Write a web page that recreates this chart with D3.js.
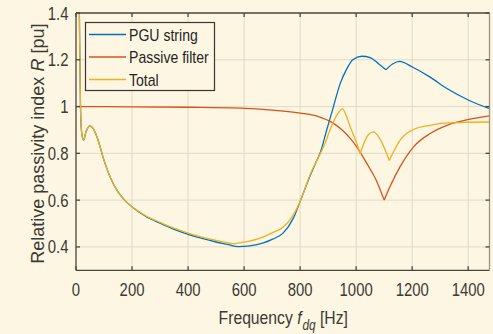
<!DOCTYPE html>
<html>
<head>
<meta charset="utf-8">
<script src="https://cdn.jsdelivr.net/npm/d3@7"></script>
<style>
  html, body { margin: 0; padding: 0; background: #fdf6e3; }
  svg { display: block; }
  .tick-label { font-family: "Liberation Sans", Arial, sans-serif; font-size: 17.5px; fill: #3b3a33; }
  .legend-label { font-family: "Liberation Sans", Arial, sans-serif; font-size: 16px; fill: #26251f; }
  .axis-label { font-family: "Liberation Sans", Arial, sans-serif; font-size: 18.5px; fill: #3b3a33; }
  .axis-label-y { font-family: "Liberation Sans", Arial, sans-serif; font-size: 18px; fill: #3b3a33; }
</style>
</head>
<body>
<svg id="chart" width="493" height="334"></svg>
<script>
// Relative passivity index versus dq-frame frequency

const xTicks = [0, 200, 400, 600, 800, 1000, 1200, 1400];
const yTicks = [0.4, 0.6, 0.8, 1, 1.2, 1.4];
const yTickLabels = ["0.4", "0.6", "0.8", "1", "1.2", "1.4"];

const seriesNames = ["PGU string", "Passive filter", "Total"];
const seriesColors = ["#0072bd", "#d95319", "#edb120"];

// PGU string
const pguFreq = [8, 12, 16, 21, 27, 35, 50, 62, 75, 100, 125, 150, 175, 205, 250, 300, 350, 400, 450, 500, 540, 580, 620, 669, 700, 740, 776, 802, 836, 860, 871, 895, 919, 943, 967, 988, 1020, 1050, 1080, 1106, 1130, 1155, 1202, 1264, 1324, 1402, 1476];
const pguValue = [1.9, 1.4, 1.0, 0.88, 0.857, 0.89, 0.917, 0.905, 0.87, 0.77, 0.69, 0.635, 0.598, 0.566, 0.53, 0.501, 0.475, 0.454, 0.436, 0.421, 0.411, 0.401, 0.404, 0.417, 0.432, 0.46, 0.523, 0.6, 0.705, 0.77, 0.8, 0.9, 1.0, 1.098, 1.162, 1.2, 1.215, 1.209, 1.183, 1.157, 1.182, 1.193, 1.168, 1.126, 1.077, 1.027, 0.991];
const pguKinks = [1106];

// Passive filter
const filterFreq = [0, 200, 400, 586, 700, 800, 860, 919, 950, 979, 1002, 1038, 1074, 1100, 1121, 1157, 1205, 1264, 1324, 1402, 1476];
const filterValue = [1.0, 0.999, 0.997, 0.993, 0.985, 0.972, 0.959, 0.928, 0.9, 0.864, 0.828, 0.757, 0.679, 0.6, 0.658, 0.743, 0.828, 0.885, 0.92, 0.945, 0.96];
const filterKinks = [1100];

// Total
const totalFreq = [8, 12, 16, 21, 27, 35, 50, 62, 75, 100, 125, 150, 175, 205, 250, 300, 350, 400, 450, 500, 540, 562, 600, 669, 700, 740, 776, 802, 836, 860, 889, 910, 931, 951, 965, 979, 1000, 1014, 1030, 1045, 1062, 1080, 1100, 1118, 1135, 1157, 1180, 1205, 1264, 1324, 1402, 1476];
const totalValue = [1.9, 1.4, 1.0, 0.88, 0.857, 0.89, 0.917, 0.905, 0.87, 0.77, 0.69, 0.635, 0.598, 0.567, 0.532, 0.505, 0.48, 0.459, 0.442, 0.428, 0.418, 0.413, 0.42, 0.443, 0.46, 0.485, 0.537, 0.6, 0.71, 0.77, 0.843, 0.91, 0.963, 0.99, 0.96, 0.913, 0.85, 0.797, 0.85, 0.882, 0.892, 0.872, 0.825, 0.769, 0.81, 0.857, 0.885, 0.902, 0.92, 0.93, 0.933, 0.934];
const totalKinks = [562, 1014, 1118];

const svg = d3.select("#chart");
const plot = { left: 76, right: 489.5, top: 13, bottom: 270.3 };
// horizontal text squeeze used throughout the figure
const squeeze = 0.85;

const x = d3.scaleLinear().domain([0, 1476]).range([plot.left, plot.right]);
const y = d3.scaleLinear().domain([0.3, 1.4]).range([plot.bottom, plot.top]);

const axisColor = "#4a463b";
const gridColor = "#e2dac6";

svg.append("rect").attr("width", 493).attr("height", 334).attr("fill", "#fdf6e3");

// grid
const grid = svg.append("g");
grid.selectAll("line.gx").data(xTicks.filter(d => d > 0)).join("line")
  .attr("x1", d => x(d)).attr("x2", d => x(d))
  .attr("y1", plot.top).attr("y2", plot.bottom)
  .attr("stroke", gridColor).attr("stroke-width", 1);
grid.selectAll("line.gy").data(yTicks.filter(d => d < 1.4)).join("line")
  .attr("x1", plot.left).attr("x2", plot.right)
  .attr("y1", d => y(d)).attr("y2", d => y(d))
  .attr("stroke", gridColor).attr("stroke-width", 1);

// curves
svg.append("defs").append("clipPath").attr("id", "plotClip")
  .append("rect").attr("x", plot.left).attr("y", plot.top)
  .attr("width", plot.right - plot.left).attr("height", plot.bottom - plot.top);

const lineGen = d3.line().x(d => x(d[0])).y(d => y(d[1])).curve(d3.curveMonotoneX);

function curvePath(freqs, values, kinks) {
  const pts = freqs.map((f, i) => [f, values[i]]);
  const segments = [];
  let current = [];
  pts.forEach(p => {
    current.push(p);
    if (kinks.includes(p[0])) {
      segments.push(current);
      current = [p];
    }
  });
  if (current.length > 1) segments.push(current);
  return segments.map(s => lineGen(s)).join("");
}

const curves = svg.append("g").attr("clip-path", "url(#plotClip)");
const seriesData = [
  [pguFreq, pguValue, pguKinks],
  [filterFreq, filterValue, filterKinks],
  [totalFreq, totalValue, totalKinks]
];
seriesData.forEach((s, i) => {
  curves.append("path")
    .attr("d", curvePath(s[0], s[1], s[2]))
    .attr("fill", "none")
    .attr("stroke", seriesColors[i])
    .attr("stroke-width", 1.3)
    .attr("stroke-linejoin", "round");
});

// axes box
const axes = svg.append("g");
axes.append("line").attr("x1", plot.left).attr("x2", plot.right).attr("y1", plot.bottom).attr("y2", plot.bottom)
  .attr("stroke", axisColor).attr("stroke-width", 1.3);
axes.append("line").attr("x1", plot.left).attr("x2", plot.right).attr("y1", plot.top).attr("y2", plot.top)
  .attr("stroke", axisColor).attr("stroke-width", 1.3);
axes.append("line").attr("x1", plot.left).attr("x2", plot.left).attr("y1", plot.top).attr("y2", plot.bottom)
  .attr("stroke", axisColor).attr("stroke-width", 1.3);
axes.append("line").attr("x1", plot.right).attr("x2", plot.right).attr("y1", plot.top).attr("y2", plot.bottom)
  .attr("stroke", "#9b9585").attr("stroke-width", 1.3);

const tickLen = 4;
axes.selectAll("line.xb").data(xTicks).join("line")
  .attr("x1", d => x(d)).attr("x2", d => x(d))
  .attr("y1", plot.bottom).attr("y2", plot.bottom - tickLen)
  .attr("stroke", axisColor).attr("stroke-width", 1.3);
axes.selectAll("line.xt").data(xTicks).join("line")
  .attr("x1", d => x(d)).attr("x2", d => x(d))
  .attr("y1", plot.top).attr("y2", plot.top + tickLen)
  .attr("stroke", axisColor).attr("stroke-width", 1.3);
axes.selectAll("line.yl").data(yTicks).join("line")
  .attr("x1", plot.left).attr("x2", plot.left + tickLen)
  .attr("y1", d => y(d)).attr("y2", d => y(d))
  .attr("stroke", axisColor).attr("stroke-width", 1.3);
axes.selectAll("line.yr").data(yTicks).join("line")
  .attr("x1", plot.right).attr("x2", plot.right - tickLen)
  .attr("y1", d => y(d)).attr("y2", d => y(d))
  .attr("stroke", axisColor).attr("stroke-width", 1.3);

// tick labels
svg.selectAll("text.xtick").data(xTicks).join("text")
  .attr("class", "tick-label")
  .attr("transform", d => `translate(${x(d)},${plot.bottom + 26}) scale(${squeeze},1)`)
  .attr("text-anchor", "middle")
  .text(d => d);
svg.selectAll("text.ytick").data(yTicks).join("text")
  .attr("class", "tick-label")
  .attr("transform", d => `translate(${plot.left - 7.5},${y(d) + 6.5}) scale(${squeeze},1)`)
  .attr("text-anchor", "end")
  .text((d, i) => yTickLabels[i]);

// axis titles
const xLabel = svg.append("text").attr("class", "axis-label")
  .attr("transform", `translate(${(plot.left + plot.right) / 2 + 0.5},323.5) scale(${squeeze},1)`)
  .attr("text-anchor", "middle");
xLabel.append("tspan").text("Frequency ");
xLabel.append("tspan").attr("font-style", "italic").text("f");
xLabel.append("tspan").attr("font-style", "italic").attr("font-size", "14px").attr("dy", 6).attr("dx", 1).text("dq");
xLabel.append("tspan").attr("dy", -6).text(" [Hz]");

const yLabel = svg.append("text").attr("class", "axis-label-y")
  .attr("transform", `translate(43.5, ${(plot.top + plot.bottom) / 2 + 2}) rotate(-90)`)
  .attr("text-anchor", "middle");
yLabel.append("tspan").text("Relative passivity index ");
yLabel.append("tspan").attr("font-style", "italic").text("R");
yLabel.append("tspan").text(" [pu]");

// legend
const legend = svg.append("g");
legend.append("rect")
  .attr("x", 85.5).attr("y", 22.5).attr("width", 129).attr("height", 68)
  .attr("fill", "#fdf6e3").attr("stroke", "#3a372e").attr("stroke-width", 1.2);
seriesNames.forEach((name, i) => {
  const ly = 34.5 + i * 22.5;
  legend.append("line")
    .attr("x1", 89).attr("x2", 126).attr("y1", ly).attr("y2", ly)
    .attr("stroke", seriesColors[i]).attr("stroke-width", 1.3);
  legend.append("text").attr("class", "legend-label")
    .attr("transform", `translate(129,${ly + 6}) scale(0.88,1)`)
    .text(name);
});
</script>
</body>
</html>
